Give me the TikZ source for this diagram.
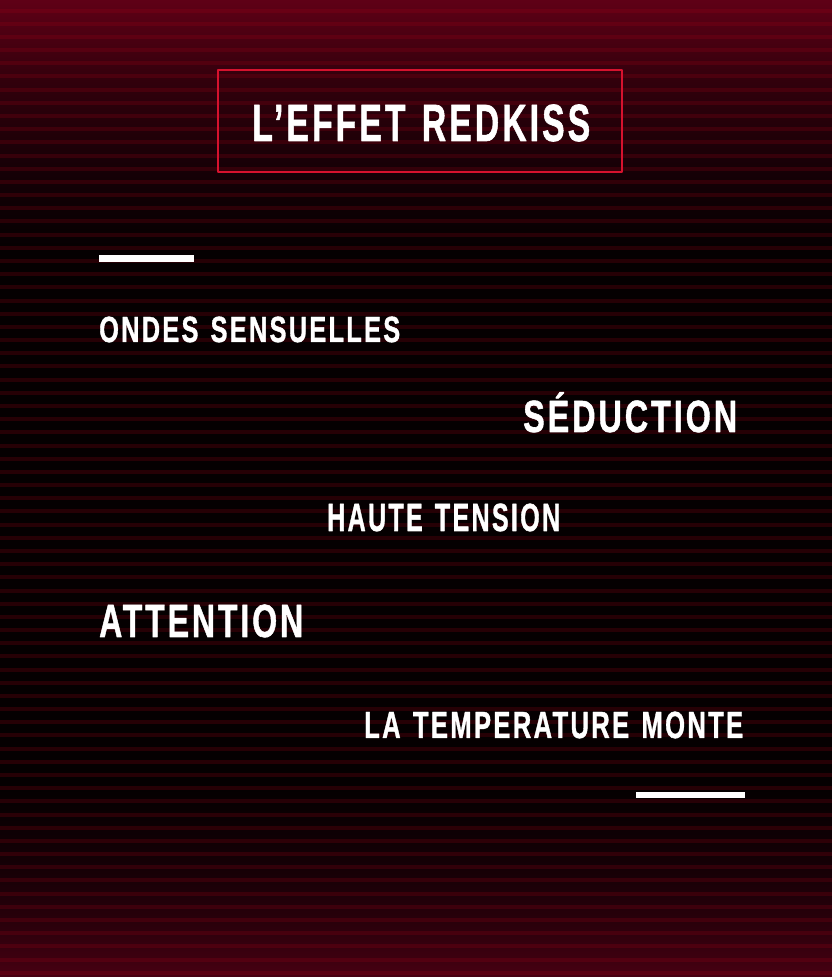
\documentclass[tikz,border=0pt]{standalone}
\usepackage{fontspec}
\newfontfamily\rkfont[LetterSpace=9,WordSpace=1.3,FakeBold=1.3]{Liberation Sans}
\definecolor{rkred}{RGB}{214,18,46}
\definecolor{rkstrie}{RGB}{170,0,22}
\definecolor{fondA}{RGB}{72,0,18}
\definecolor{fondB}{RGB}{45,0,12}
\definecolor{fondC}{RGB}{22,0,6}
\definecolor{fondD}{RGB}{5,0,1}
\definecolor{fondE}{RGB}{22,0,6}
\definecolor{fondF}{RGB}{50,0,12}
\definecolor{fondG}{RGB}{95,0,22}
\pgfdeclareverticalshading{rkfond}{100bp}{color(0bp)=(fondA); color(25bp)=(fondA); color(27.4bp)=(fondB); color(30.5bp)=(fondC); color(34.6bp)=(fondD); color(62.2bp)=(fondD); color(66.3bp)=(fondE); color(70.9bp)=(fondF); color(75bp)=(fondG); color(100bp)=(fondG)}
\newcommand{\rktext}[3]{\resizebox{#1}{#2}{\rkfont\bfseries\smash{#3}\vphantom{H}}}
\begin{document}
\begin{tikzpicture}[x=1pt,y=1pt,line join=round,
	mot/.style={text=white,inner sep=0pt,anchor=base west},
	strie/.style={line width=4pt,draw=rkstrie,draw opacity=0.2},
	cadre/.style={draw=rkred,line width=2.5pt,minimum width=404pt,minimum height=102pt}]
	\useasboundingbox (0,0) rectangle (832,977);
	\shade[shading=rkfond] (0,0) rectangle (832,977);
	\foreach \k in {0,...,74}
		\draw[strie] (0,{966.4-13.18*\k}) -- (832,{966.4-13.18*\k});
	% titre
	\node[cadre] (cadre) at (420,856) {};
	\node[mot] (titre) at (252,836) {\rktext{338pt}{36pt}{L’EFFET REDKISS}};
	\fill[white] (99,715) rectangle (194,722);
	\node[mot] (ondes) at (99,635) {\rktext{301pt}{25pt}{ONDES SENSUELLES}};
	\node[mot] (seduction) at (523,545) {\rktext{214pt}{31pt}{SÉDUCTION}};
	\node[mot] (tension) at (327,446) {\rktext{233pt}{27pt}{HAUTE TENSION}};
	\node[mot] (attention) at (99,340) {\rktext{204pt}{32pt}{ATTENTION}};
	\node[mot] (temperature) at (364,239) {\rktext{379pt}{26pt}{LA TEMPERATURE MONTE}};
	\fill[white] (636,179) rectangle (745,185);
\end{tikzpicture}
\end{document}
